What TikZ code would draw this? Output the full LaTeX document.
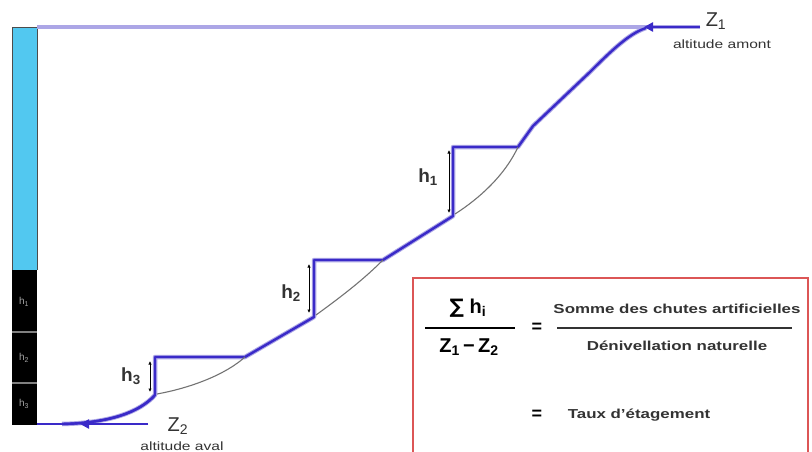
\documentclass[tikz,border=0pt]{standalone}
\usepackage{fontspec}
\setmainfont{Liberation Sans}
\newfontfamily\symfont{DejaVu Sans}
\usetikzlibrary{arrows.meta}
\definecolor{riviere}{RGB}{58,42,200}
\definecolor{halo}{RGB}{172,166,230}
\definecolor{eau}{RGB}{82,200,240}
\definecolor{cadre}{RGB}{220,86,86}
\tikzset{
  lit/.style={halo, line width=4.5pt, line join=round},
  profil/.style={riviere, line width=2.4pt, line join=round},
  naturel/.style={gray!90!black, line width=1.1pt},
  chute/.style={black, line width=0.8pt, {Latex[length=3.5pt,width=3.5pt]}-{Latex[length=3.5pt,width=3.5pt]}},
  fleche/.style={riviere, line width=2.4pt, -{Triangle[length=9pt,width=9pt]}},
  lbl/.style={inner sep=0pt, text=black!80},
  texte/.style={lbl, xscale=1.3, font=\fontsize{13}{13}\selectfont\bfseries},
}
\begin{document}
\begin{tikzpicture}[x=1pt,y=-1pt]
  \clip (0,0) rectangle (812,452);
  \fill[white] (0,0) rectangle (812,452);
  % echelle de gauche
  \fill[eau] (12,27) rectangle (37,270);
  \draw[black!70, line width=0.8pt] (12,270) -- (12,27) -- (37,27) -- (37,270);
  \fill[black] (12,270) rectangle (37,425);
  \draw[gray, line width=1.5pt] (12,332) -- (37,332) (12,383) -- (37,383);
  \node[lbl, text=gray!70, font=\fontsize{10}{10}\selectfont] (b1) at (24,302) {h\textsubscript{1}};
  \node[lbl, text=gray!70, font=\fontsize{10}{10}\selectfont] (b2) at (24,358) {h\textsubscript{2}};
  \node[lbl, text=gray!70, font=\fontsize{10}{10}\selectfont] (b3) at (24,404) {h\textsubscript{3}};
  % niveaux amont / aval
  \coordinate (amont) at (700,27);
  \coordinate (aval) at (148,424);
  \draw[halo, line width=4pt] (37,27) -- (amont);
  \draw[profil] (amont) -- (646,27);
  \draw[profil] (aval) -- (37,424);
  % profil avec les chutes
  \coordinate (p3) at (155,395); \coordinate (t3) at (155,357); \coordinate (e3) at (245,357);
  \coordinate (p2) at (314,317); \coordinate (t2) at (314,260); \coordinate (e2) at (383,260);
  \coordinate (p1) at (453,216); \coordinate (t1) at (453,147); \coordinate (e1) at (518,147);
  \coordinate (z1) at (646,28);
  \foreach \s in {lit,profil}
    \draw[\s] (62,424) .. controls (110,423) and (140,412) .. (p3) -- (t3) -- (e3) -- (p2) -- (t2) -- (e2)
      -- (p1) -- (t1) -- (e1) -- (533,126) -- (590,72) .. controls (612,50) and (630,33) .. (z1);
  \draw[profil] (62,424) .. controls (110,423) and (140,412) .. (p3);
  \draw[fleche] (amont) -- (644,27);
  \draw[fleche] (aval) -- (80,424);
  % pente naturelle
  \draw[naturel] (157,394) .. controls (190,388) and (225,375) .. (e3);
  \draw[naturel] (316,315) .. controls (345,294) and (365,278) .. (e2);
  \draw[naturel] (455,214) .. controls (480,198) and (505,175) .. (e1);
  % hauteurs de chute
  \draw[chute] (449,150) -- (449,213);
  \draw[chute] (309,264) -- (309,313);
  \draw[chute] (150,361) -- (150,392);
  \node[lbl, font=\fontsize{19}{19}\selectfont\bfseries] (h1) at (428,177) {h\textsubscript{1}};
  \node[lbl, font=\fontsize{19}{19}\selectfont\bfseries] (h2) at (291,293) {h\textsubscript{2}};
  \node[lbl, font=\fontsize{19}{19}\selectfont\bfseries] (h3) at (131,376) {h\textsubscript{3}};
  % altitudes
  \node[lbl, font=\fontsize{20}{20}\selectfont] (Z1) at (716,21) {Z\textsubscript{1}};
  \node[lbl, xscale=1.3, font=\fontsize{12}{12}\selectfont] (am) at (722,44) {altitude amont};
  \node[lbl, font=\fontsize{20}{20}\selectfont] (Z2) at (178,426) {Z\textsubscript{2}};
  \node[lbl, xscale=1.3, font=\fontsize{12}{12}\selectfont] (av) at (182,446) {altitude aval};
  % cadre de la formule
  \draw[cadre, line width=2.5pt] (413,470) -- (413,278) -- (808,278) -- (808,470);
  \node[lbl, text=black, font=\fontsize{20}{20}\selectfont\bfseries] (num) at (468,308) {{\symfont\bfseries ∑} h\textsubscript{i}};
  \node[lbl, text=black, font=\fontsize{20}{20}\selectfont\bfseries] (den) at (469,347) {Z\textsubscript{1}\,−\,Z\textsubscript{2}};
  \draw[black, line width=1.6pt] (425,328) -- (515,328);
  \node[lbl, text=black, font=\fontsize{18}{18}\selectfont\bfseries] (eg1) at (537,328) {=};
  \node[texte] (somme) at (677,309) {Somme des chutes artificielles};
  \draw[black!80, line width=1.6pt] (557,328) -- (792,328);
  \node[texte] (deniv) at (677,346) {Dénivellation naturelle};
  \node[lbl, text=black, font=\fontsize{18}{18}\selectfont\bfseries] (eg2) at (537,415) {=};
  \node[texte] (taux) at (639,415) {Taux d'étagement};
\end{tikzpicture}
\end{document}
